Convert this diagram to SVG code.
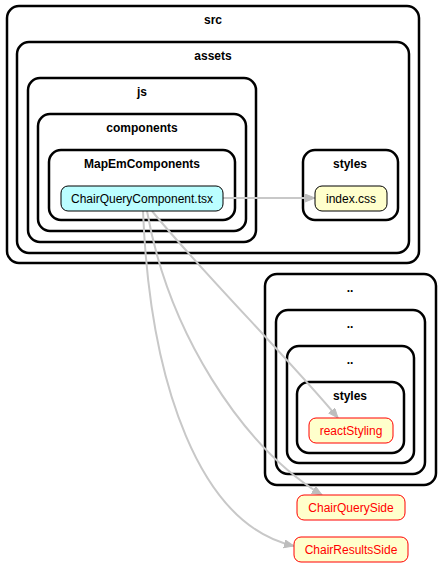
<svg xmlns="http://www.w3.org/2000/svg" width="446" height="567" viewBox="0 0 446 567">
<style>
.cl{fill:#fff;stroke:#000;stroke-width:2.5}
.ct{font-family:"Liberation Sans",Arial,sans-serif;font-size:12px;font-weight:bold;text-anchor:middle;fill:#000}
.nt{font-family:"Liberation Sans",Arial,sans-serif;font-size:12px;text-anchor:middle}
.e{fill:none;stroke:#c8c8c8;stroke-width:2}
</style>
<defs>
<marker id="ah" markerUnits="userSpaceOnUse" markerWidth="12" markerHeight="10" refX="10" refY="4" orient="auto">
<path d="M0,0 L10,4 L0,8 Z" fill="#bdbdbd" stroke="#bdbdbd" stroke-width="1"/>
</marker>
</defs>
<rect width="446" height="567" fill="#fff"/>
<g id="cluster-src"><rect class="cl" x="7" y="6" width="412" height="257" rx="12"/><text class="ct" x="213" y="24">src</text></g>
<g id="cluster-assets"><rect class="cl" x="17" y="42" width="392" height="211" rx="12"/><text class="ct" x="213" y="60">assets</text></g>
<g id="cluster-js"><rect class="cl" x="28" y="78" width="228" height="164" rx="12"/><text class="ct" x="142" y="96">js</text></g>
<g id="cluster-components"><rect class="cl" x="38" y="114" width="208" height="117" rx="12"/><text class="ct" x="142" y="132">components</text></g>
<g id="cluster-mapem"><rect class="cl" x="49" y="150" width="186" height="70" rx="12"/><text class="ct" x="142" y="168">MapEmComponents</text></g>
<g id="cluster-styles"><rect class="cl" x="303" y="150" width="95" height="70" rx="12"/><text class="ct" x="350" y="168">styles</text></g>
<g id="cluster-dd1"><rect class="cl" x="265" y="274" width="171" height="211" rx="12"/><text class="ct" x="350" y="292">..</text></g>
<g id="cluster-dd2"><rect class="cl" x="276" y="310" width="149" height="164" rx="12"/><text class="ct" x="350" y="328">..</text></g>
<g id="cluster-dd3"><rect class="cl" x="287" y="346" width="127" height="117" rx="12"/><text class="ct" x="350" y="364">..</text></g>
<g id="cluster-styles2"><rect class="cl" x="297" y="382" width="107" height="71" rx="12"/><text class="ct" x="350" y="400">styles</text></g>
<g id="edges">
<path class="e" d="M223,198 L315,198" marker-end="url(#ah)"/>
<path class="e" d="M152,211 C200,270 290,360 338,418" marker-end="url(#ah)"/>
<path class="e" d="M147,211 C168,330 240,445 322,495" marker-end="url(#ah)"/>
<path class="e" d="M143,211 C150,385 200,525 294,546" marker-end="url(#ah)"/>
</g>
<g id="node-chairquerycomponent"><rect x="61" y="186" width="162" height="25" rx="7" fill="#bbfeff" stroke="#000" stroke-width="1"/><text class="nt" x="142" y="202.5" fill="#000">ChairQueryComponent.tsx</text></g>
<g id="node-indexcss"><rect x="315" y="186" width="72" height="25" rx="7" fill="#ffffcc" stroke="#000" stroke-width="1"/><text class="nt" x="351" y="202.5" fill="#000">index.css</text></g>
<g id="node-reactstyling"><rect x="309" y="418" width="84" height="25" rx="7" fill="#ffffcc" stroke="#ff0000" stroke-width="1"/><text class="nt" x="351" y="434.5" fill="#ff0000">reactStyling</text></g>
<g id="node-chairqueryside"><rect x="297" y="495" width="108" height="25" rx="7" fill="#ffffcc" stroke="#ff0000" stroke-width="1"/><text class="nt" x="351" y="511.5" fill="#ff0000">ChairQuerySide</text></g>
<g id="node-chairresultsside"><rect x="294" y="537" width="114" height="25" rx="7" fill="#ffffcc" stroke="#ff0000" stroke-width="1"/><text class="nt" x="351" y="553.5" fill="#ff0000">ChairResultsSide</text></g>
</svg>
